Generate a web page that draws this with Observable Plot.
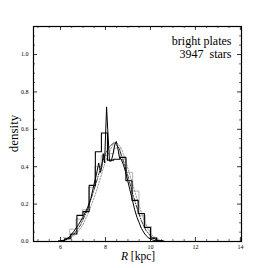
<!DOCTYPE html>
<html>
<head>
<meta charset="utf-8">
<script src="https://cdn.jsdelivr.net/npm/d3@7"></script>
<script src="https://cdn.jsdelivr.net/npm/@observablehq/plot@0.6"></script>
<style>
  html, body { margin: 0; padding: 0; background: #fff; }
  svg text { white-space: pre; font-family: "Liberation Serif", "DejaVu Serif", serif !important; }
</style>
</head>
<body>
<div id="chart"></div>
<script>
// ---- data ----
const histEdges = [5.91, 6.185, 6.46, 6.73, 7.0, 7.275, 7.55, 7.82, 8.09, 8.365, 8.64, 8.91, 9.18, 9.455, 9.73, 10.0, 10.275, 10.55];
const histValues = [0.004, 0.015, 0.04, 0.14, 0.16, 0.30, 0.48, 0.58, 0.435, 0.44, 0.45, 0.325, 0.22, 0.15, 0.075, 0.018, 0.004, 0.004];

const grayEdges = [6.13, 6.41, 6.69, 6.97, 7.25, 7.53, 7.81, 8.09, 8.37, 8.65, 8.93, 9.21, 9.49, 9.77, 10.05, 10.33, 10.61];
const grayValues = [0.02, 0.066, 0.12, 0.17, 0.29, 0.40, 0.46, 0.47, 0.50, 0.44, 0.37, 0.27, 0.14, 0.08, 0.02, 0.005, 0.005];

const noisyR = [6.0, 6.2, 6.4, 6.6, 6.8, 7.0, 7.2, 7.35, 7.48, 7.6, 7.7, 7.78, 7.84, 7.9, 7.96, 8.05, 8.1, 8.18, 8.26, 8.34, 8.42, 8.48, 8.55, 8.62, 8.7, 8.8, 8.9, 9.0, 9.1, 9.2, 9.3, 9.4, 9.5, 9.6, 9.75, 9.9, 10.1, 10.3, 10.5];
const noisyD = [0.0, 0.008, 0.025, 0.055, 0.09, 0.13, 0.18, 0.23, 0.30, 0.36, 0.42, 0.37, 0.40, 0.47, 0.42, 0.72, 0.60, 0.43, 0.43, 0.47, 0.52, 0.535, 0.50, 0.45, 0.44, 0.41, 0.37, 0.32, 0.27, 0.22, 0.17, 0.13, 0.10, 0.07, 0.04, 0.02, 0.008, 0.002, 0.0];

const dashR = [6.0, 6.3, 6.6, 6.9, 7.2, 7.5, 7.8, 8.0, 8.2, 8.4, 8.6, 8.8, 9.0, 9.2, 9.4, 9.6, 9.8, 10.0, 10.2, 10.4, 10.6];
const dashD = [0.003, 0.012, 0.04, 0.09, 0.17, 0.28, 0.40, 0.47, 0.51, 0.53, 0.50, 0.43, 0.35, 0.26, 0.18, 0.11, 0.06, 0.03, 0.012, 0.004, 0.001];

const dotR = [6.1, 6.4, 6.7, 7.0, 7.3, 7.6, 7.9, 8.1, 8.3, 8.5, 8.7, 8.9, 9.1, 9.3, 9.5, 9.7, 9.9, 10.1, 10.3, 10.5];
const dotD = [0.003, 0.015, 0.04, 0.09, 0.17, 0.27, 0.39, 0.46, 0.51, 0.53, 0.50, 0.43, 0.35, 0.27, 0.19, 0.12, 0.065, 0.03, 0.012, 0.004];

const xMajor = [6, 8, 10, 12, 14];
const xMinor = [5.0, 5.5, 6.5, 7.0, 7.5, 8.5, 9.0, 9.5, 10.5, 11.0, 11.5, 12.5, 13.0, 13.5];
const yMajor = [0.0, 0.2, 0.4, 0.6, 0.8, 1.0];
const yMinor = [0.05, 0.1, 0.15, 0.25, 0.3, 0.35, 0.45, 0.5, 0.55, 0.65, 0.7, 0.75, 0.85, 0.9, 0.95, 1.05, 1.1];

const annotation = ["bright plates\n3947  stars"];
const xLabelItalic = "R";
const xLabelRest = " [kpc]";
const yLabel = "density";

// ---- layout ----
const W = 268, H = 268;
const mL = 33, mR = 27, mT = 26, mB = 27;
const innerW = W - mL - mR, innerH = H - mT - mB;
const font = "Liberation Serif";

const toPts = (xs, ys) => xs.map((x, i) => ({x, y: ys[i]}));
const hist = toPts(histEdges, histValues);
const grayHist = toPts(grayEdges, grayValues);

const plot = Plot.plot({
  width: W, height: H,
  marginLeft: mL, marginRight: mR, marginTop: mT, marginBottom: mB,
  style: {fontFamily: font, fontSize: "6px", background: "#fff", color: "#000"},
  x: {domain: [4.8, 14.05], label: null},
  y: {domain: [0, 1.15], label: null},
  marks: [
    Plot.line(grayHist, {x: "x", y: "y", curve: "step-after", stroke: "#aaa", strokeWidth: 0.9}),
    Plot.line(toPts(dotR, dotD), {x: "x", y: "y", stroke: "#999", strokeWidth: 1, strokeDasharray: "1.5,1.5", curve: "linear"}),
    Plot.line(toPts(dashR, dashD), {x: "x", y: "y", stroke: "#000", strokeWidth: 0.8, strokeDasharray: "4,1.5,1,1.5", curve: "linear"}),
    Plot.line(toPts(noisyR, noisyD), {x: "x", y: "y", stroke: "#000", strokeWidth: 1, curve: "linear"}),
    Plot.line(hist, {x: "x", y: "y", curve: "step-after", stroke: "#000", strokeWidth: 1.1}),
    // ticks (inward, all four sides)
    Plot.tickX(xMajor, {x: d => d, insetTop: innerH - 4, stroke: "#000", strokeWidth: 0.8}),
    Plot.tickX(xMajor, {x: d => d, insetBottom: innerH - 4, stroke: "#000", strokeWidth: 0.8}),
    Plot.tickX(xMinor, {x: d => d, insetTop: innerH - 2, stroke: "#000", strokeWidth: 0.6}),
    Plot.tickX(xMinor, {x: d => d, insetBottom: innerH - 2, stroke: "#000", strokeWidth: 0.6}),
    Plot.tickY(yMajor, {y: d => d, insetRight: innerW - 4, stroke: "#000", strokeWidth: 0.8}),
    Plot.tickY(yMajor, {y: d => d, insetLeft: innerW - 4, stroke: "#000", strokeWidth: 0.8}),
    Plot.tickY(yMinor, {y: d => d, insetRight: innerW - 2, stroke: "#000", strokeWidth: 0.6}),
    Plot.tickY(yMinor, {y: d => d, insetLeft: innerW - 2, stroke: "#000", strokeWidth: 0.6}),
    Plot.axisX(xMajor, {tickSize: 0, tickPadding: 3, tickFormat: d => String(d), label: null, fontSize: 6, fontFamily: font}),
    Plot.axisY(yMajor, {tickSize: 0, tickPadding: 5, tickFormat: d3.format(".1f"), label: null, fontSize: 6, fontFamily: font}),
    Plot.frame({stroke: "#000", strokeWidth: 1.2}),
    Plot.text(annotation, {frameAnchor: "top-right", dx: -10, dy: 9.5, textAnchor: "end", lineAnchor: "top", fontSize: 12, lineHeight: 1.08, fill: "#000", fontFamily: font})
  ]
});

document.getElementById("chart").appendChild(plot);

// axis titles with italic R
const svg = d3.select(plot);
const xt = svg.append("text")
  .attr("x", mL + innerW / 2 + 1)
  .attr("y", 260)
  .attr("text-anchor", "middle")
  .attr("font-family", font)
  .attr("font-size", 11.5)
  .attr("fill", "#000");
xt.append("tspan").attr("font-style", "italic").text(xLabelItalic);
xt.append("tspan").text(xLabelRest);

svg.append("text")
  .attr("transform", `translate(18,${mT + innerH / 2}) rotate(-90)`)
  .attr("text-anchor", "middle")
  .attr("font-family", font)
  .attr("font-size", 13)
  .attr("fill", "#000")
  .text(yLabel);
</script>
</body>
</html>
